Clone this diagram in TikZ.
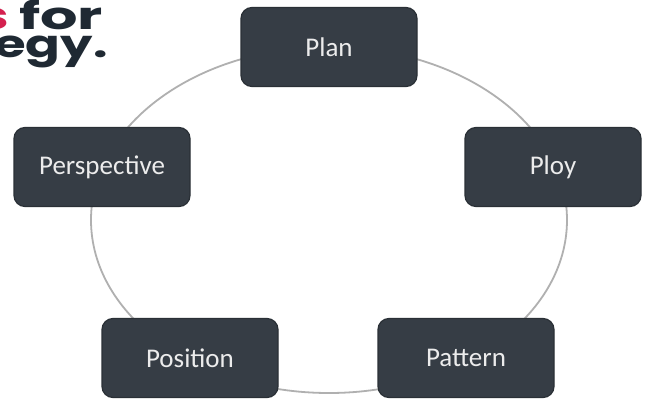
\documentclass[tikz,border=0pt]{standalone}
\usepackage{fontspec}
\setmainfont{Carlito}
\newfontfamily\titlefont{Poppins}[UprightFont=* Bold]
\definecolor{boxfill}{HTML}{363D45}
\definecolor{boxedge}{HTML}{2A3036}
\definecolor{ringgray}{HTML}{B0B0B0}
\definecolor{titlered}{HTML}{D4214F}
\definecolor{titledark}{HTML}{1F2933}
\tikzset{
  psbox/.style={draw=boxedge, line width=1.2pt, fill=boxfill, rounded corners=11pt,
    minimum width=176pt, minimum height=79pt, inner sep=0pt,
    text=white!85!gray, font=\fontsize{27}{30}\selectfont},
  ring/.style={draw=ringgray, line width=1.8pt},
  headline/.style={anchor=base west, inner sep=0pt, font=\titlefont\fontsize{38}{40}\selectfont}
}
\begin{document}
\begin{tikzpicture}[x=1pt, y=-1pt]
  \useasboundingbox (0,0) rectangle (657,405);
  \clip (0,0) rectangle (657,405);
  \fill[white] (0,0) rectangle (657,405);

  % cycle ring behind the five boxes
  \coordinate (hub) at (329,220);
  \draw[ring] (hub) ellipse [x radius=238, y radius=173];

  % heading, running off the left edge
  \node[headline] (head1) at (-24,29)
    {\scalebox{1.55}[1]{\textcolor{titlered}{s}\hspace{0.17em}\textcolor{titledark}{for}}};
  \node[headline, text=titledark] (head2) at (-6,57) {\scalebox{1.35}[1]{egy.}};

  % the five Ps
  \node[psbox] (plan)  at (329,47)  {Plan};
  \node[psbox] (ploy)  at (553,167) {Ploy};
  \node[psbox] (patt)  at (466,358) {Pattern};
  \node[psbox] (posi)  at (190,358) {Position};
  \node[psbox] (persp) at (102,167) {Perspective};
\end{tikzpicture}
\end{document}
